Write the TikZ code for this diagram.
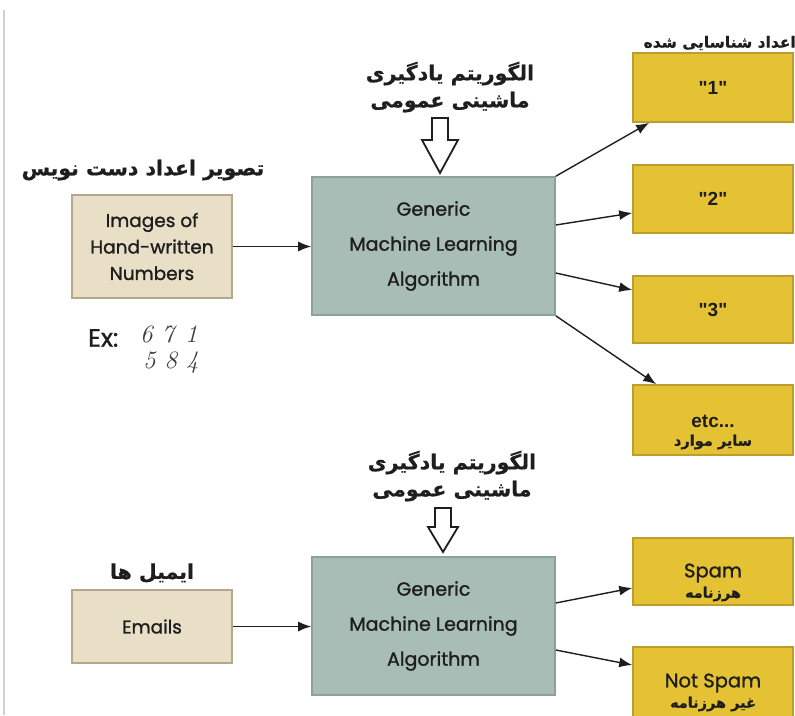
\documentclass[tikz,border=0pt]{standalone}
\usepackage{fontspec}
\usetikzlibrary{arrows.meta}
\newfontfamily\pop[FakeBold=1.2]{Poppins}
\newfontfamily\fa[Script=Arabic,FakeBold=0.6]{DejaVu Sans}
\newfontfamily\ari{Liberation Sans}
\TeXXeTstate=1
\definecolor{tanF}{HTML}{E9DFC6}
\definecolor{tanD}{HTML}{B3A78C}
\definecolor{tealF}{HTML}{A9BDB7}
\definecolor{tealD}{HTML}{8CA19A}
\definecolor{yelF}{HTML}{E4C233}
\definecolor{yelD}{HTML}{BB9E2E}
\definecolor{ink}{HTML}{1E1E1E}
\tikzset{
  base/.style={draw, line width=1.6pt, inner sep=0pt, align=center, text=ink},
  tanbox/.style={base, fill=tanF, draw=tanD, minimum width=160pt},
  tealbox/.style={base, fill=tealF, draw=tealD, minimum width=243pt, minimum height=138pt,
     font=\pop\fontsize{19}{35}\selectfont},
  yelbox/.style={base, fill=yelF, draw=yelD, minimum width=160pt},
  arr/.style={-{Latex[length=13pt,width=10pt]}, line width=1.4pt, draw=ink},
  falabel/.style={font=\fa\bfseries\fontsize{20.5}{27}\selectfont, align=center, inner sep=0pt, text=ink},
  smallfa/.style={font=\fa\bfseries\fontsize{14.5}{20}\selectfont, align=center, inner sep=0pt, text=ink},
  entext/.style={font=\pop\fontsize{18.5}{26.5}\selectfont},
  numtext/.style={font=\ari\bfseries\fontsize{19}{22}\selectfont, text=ink},
  hollow/.style={draw=ink, fill=white, line width=1.8pt, line join=miter}
}
\begin{document}
\begin{tikzpicture}[x=1pt,y=-1pt]
\useasboundingbox[fill=white] (0,0) rectangle (795,715);
\draw[black!18, line width=1.5pt] (4,10) -- (4,715);

% ---------- top section ----------
\node[tanbox, minimum height=103pt, entext] (img) at (152,246.5) {Images of\\Hand-written\\Numbers};
\node[falabel] (imgfa) at (143,170) {\beginR تصویر اعداد دست نویس\endR};
\node[font=\pop\fontsize{25}{28}\selectfont, text=ink, anchor=west, inner sep=0pt] (ex) at (88,338) {Ex:};
\node[font=\itshape\fontsize{25}{25}\selectfont, text=ink!85, align=left, anchor=north west, inner sep=0pt] (digits) at (140,326) {6\hspace{9pt}7\hspace{11pt}1\\[1pt]\hspace{3pt}5\hspace{9pt}8\hspace{9pt}4};

\node[tealbox] (alg1) at (433.5,246) {Generic\\Machine Learning\\Algorithm};
\node[falabel] (alg1fa) at (450,87) {\beginR الگوریتم یادگیری\endR\\\beginR ماشینی عمومی\endR};
\draw[hollow] (432,118) -- (448,118) -- (448,140) -- (458,140) -- (440,173) -- (422,140) -- (432,140) -- cycle;

\node[yelbox, minimum height=69pt, numtext] (y1) at (713,87.5) {"1"};
\node[yelbox, minimum height=68pt, numtext] (y2) at (713,199) {"2"};
\node[yelbox, minimum height=67pt, numtext] (y3) at (713,309.5) {"3"};
\node[yelbox, minimum height=70pt] (y4) at (713,420) {};
\node[numtext, align=center, inner sep=0pt] (y4t) at (713,421) {etc...};
\node[smallfa] (y4fa) at (713,442) {\beginR سایر موارد\endR};
\node[font=\fa\bfseries\fontsize{15.5}{18}\selectfont, anchor=east, inner sep=0pt, text=ink] (recfa) at (796,43) {\beginR اعداد شناسایی شده\endR};

\draw[arr] (img.east) -- (img.east -| alg1.west);
\draw[arr] (alg1.north east) -- ([xshift=17pt]y1.south west);
\draw[arr] ([yshift=21pt]alg1.east) -- ([yshift=-14pt]y2.west);
\draw[arr] ([yshift=-27pt]alg1.east) -- ([yshift=19.5pt]y3.west);
\draw[arr] (alg1.south east) -- ([xshift=24pt]y4.north west);

% ---------- bottom section ----------
\node[tanbox, minimum height=73pt, entext] (mail) at (152,626.5) {Emails};
\node[falabel] (mailfa) at (152,573) {\beginR ایمیل ها\endR};

\node[tealbox] (alg2) at (433.5,626) {Generic\\Machine Learning\\Algorithm};
\node[falabel] (alg2fa) at (452,476) {\beginR الگوریتم یادگیری\endR\\\beginR ماشینی عمومی\endR};
\draw[hollow] (435,508) -- (451,508) -- (451,527) -- (458,527) -- (443,552) -- (428,527) -- (435,527) -- cycle;

\node[yelbox, minimum height=67pt] (spam) at (713,571.5) {};
\node[entext, font=\pop\fontsize{19.5}{24}\selectfont, text=ink, inner sep=0pt] (spamt) at (713,573) {Spam};
\node[smallfa] (spamfa) at (713,594) {\beginR هرزنامه\endR};
\node[yelbox, minimum height=74pt] (nspam) at (713,684) {};
\node[entext, font=\pop\fontsize{19.5}{24}\selectfont, text=ink, inner sep=0pt] (nspamt) at (713,683) {Not Spam};
\node[smallfa] (nspamfa) at (713,704) {\beginR غیر هرزنامه\endR};

\draw[arr] (mail.east) -- (mail.east -| alg2.west);
\draw[arr] ([yshift=23pt]alg2.east) -- ([yshift=-16.5pt]spam.west);
\draw[arr] ([yshift=-24pt]alg2.east) -- ([yshift=19pt]nspam.west);
\end{tikzpicture}
\end{document}
